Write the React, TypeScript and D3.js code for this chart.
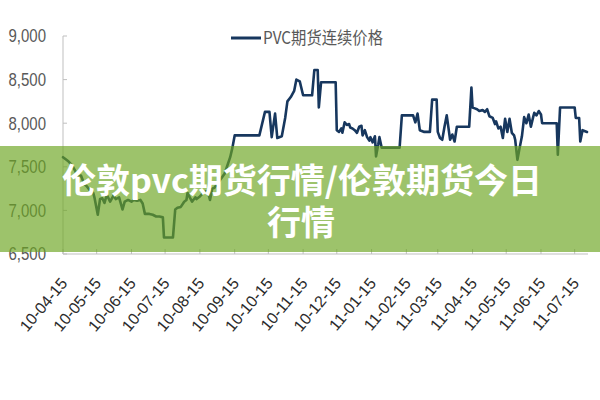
import React from 'react';
import * as d3 from 'd3';

const dates = [
  '2010-04-15','2010-04-18','2010-04-20','2010-04-23','2010-04-26','2010-04-28','2010-05-01','2010-05-04','2010-05-06','2010-05-09',
  '2010-05-12','2010-05-13','2010-05-16','2010-05-18','2010-05-20','2010-05-22','2010-05-24','2010-05-27','2010-05-30','2010-06-01',
  '2010-06-04','2010-06-07','2010-06-09','2010-06-12','2010-06-15','2010-06-17','2010-06-20','2010-06-23','2010-06-25','2010-06-27',
  '2010-07-01','2010-07-04','2010-07-07','2010-07-10','2010-07-13','2010-07-14','2010-07-18','2010-07-22','2010-07-24','2010-07-26',
  '2010-07-29','2010-08-01','2010-08-03','2010-08-04','2010-08-06','2010-08-08','2010-08-11','2010-08-12','2010-08-15','2010-08-18',
  '2010-08-20','2010-08-22','2010-08-24','2010-08-26','2010-08-28','2010-09-02','2010-09-06','2010-09-11','2010-09-13','2010-09-15',
  '2010-09-24','2010-10-03','2010-10-07','2010-10-12','2010-10-16','2010-10-18','2010-10-21','2010-10-23','2010-10-27','2010-10-30',
  '2010-11-01','2010-11-04','2010-11-07','2010-11-09','2010-11-12','2010-11-15','2010-11-19','2010-11-23','2010-11-25','2010-11-28',
  '2010-11-29','2010-12-01','2010-12-07','2010-12-14','2010-12-15','2010-12-17','2010-12-19','2010-12-20','2010-12-22','2010-12-24',
  '2010-12-26','2010-12-27','2010-12-29','2010-12-31','2011-01-02','2011-01-04','2011-01-06','2011-01-07','2011-01-09','2011-01-11',
  '2011-01-13','2011-01-14','2011-01-16','2011-01-18','2011-01-19','2011-01-21','2011-01-22','2011-01-24','2011-01-31','2011-02-09',
  '2011-02-11','2011-02-16','2011-02-21','2011-02-23','2011-02-25','2011-02-27','2011-03-03','2011-03-08','2011-03-10','2011-03-14',
  '2011-03-15','2011-03-17','2011-03-19','2011-03-21','2011-03-23','2011-03-26','2011-03-28','2011-03-30','2011-04-01','2011-04-06',
  '2011-04-12','2011-04-14','2011-04-15','2011-04-17','2011-04-19','2011-04-21','2011-04-24','2011-04-26','2011-04-28','2011-04-30',
  '2011-05-03','2011-05-05','2011-05-06','2011-05-08','2011-05-10','2011-05-12','2011-05-14','2011-05-16','2011-05-18','2011-05-20',
  '2011-05-22','2011-05-23','2011-05-25','2011-05-27','2011-05-29','2011-05-31','2011-06-02','2011-06-04','2011-06-06','2011-06-08',
  '2011-06-09','2011-06-11','2011-06-13','2011-06-15','2011-06-16','2011-06-23','2011-06-29','2011-06-30','2011-07-02','2011-07-08',
  '2011-07-15','2011-07-16','2011-07-19','2011-07-20','2011-07-22','2011-07-26'
];

const prices = [
  7610,7580,7560,7520,7450,7380,7400,7300,7280,7230,
  7200,7150,6950,7130,7140,7085,7180,7100,7170,7130,
  7150,7010,7100,7120,7100,7120,7110,7120,7080,6960,
  6960,6950,6930,6930,6920,6690,6690,6690,7010,7030,
  7040,7100,7120,7200,7150,7100,7150,7130,7160,7200,
  7220,7220,7120,7250,7260,7350,7420,7610,7720,7860,
  7860,7860,7860,8130,8130,7840,8110,7830,7850,8060,
  8250,8300,8370,8500,8480,8320,8320,8320,8610,8610,
  8180,8470,8470,8470,7920,7900,7940,7890,8010,7980,
  7990,7950,7940,7920,7890,7960,7970,7860,7920,7840,
  7800,7840,7780,7850,7620,7760,7840,7720,7720,7720,
  8090,8090,8090,8010,8110,7920,7900,7900,8270,8270,
  7900,7830,7810,7960,8090,7810,7870,7790,7960,7960,
  7960,8410,8180,8170,8160,8140,8150,8130,8160,8080,
  8060,7990,8020,7940,7960,7830,8050,7900,8050,7890,
  7860,7810,7580,7720,7850,8070,8000,8100,7960,8070,
  8120,8090,8140,8100,8000,8000,8000,7640,8180,8180,
  8180,8060,8060,7790,7920,7900
];

const yTicks = [6500, 7000, 7500, 8000, 8500, 9000];
const xTickLabels = [
  '10-04-15','10-05-15','10-06-15','10-07-15','10-08-15','10-09-15','10-10-15','10-11-15',
  '10-12-15','11-01-15','11-02-15','11-03-15','11-04-15','11-05-15','11-06-15','11-07-15'
];
const legendLabel = 'PVC期货连续价格';
const bannerLines = ['伦敦pvc期货行情/伦敦期货今日', '行情'];

export default function App() {
  const parse = d3.timeParse('%Y-%m-%d');
  const parseTick = d3.timeParse('%y-%m-%d');
  const data = dates.map((d, i) => ({ date: parse(d) as Date, value: prices[i] }));
  const ext = d3.extent(data, (d) => d.date) as [Date, Date];

  const x = d3.scaleTime().domain(ext).range([63, 587]);
  const y = d3.scaleLinear().domain([6500, 9000]).range([254, 36]);
  const fmt = d3.format(',');

  const line = d3
    .line<{ date: Date; value: number }>()
    .x((d) => x(d.date))
    .y((d) => y(d.value));

  const navy = '#17375e';
  const axisColor = '#bfbfbf';

  return (
    <svg
      width={600}
      height={400}
      style={{ position: 'absolute', left: 0, top: 0, background: '#fff' }}
    >
      <rect x={0} y={0} width={600} height={400} fill="#fff" />
      {/* y axis */}
      <line x1={63} x2={63} y1={y(9000)} y2={y(6500)} stroke={axisColor} strokeWidth={1} />
      {yTicks.map((t) => (
        <g key={t}>
          <line x1={63} x2={67} y1={y(t)} y2={y(t)} stroke={axisColor} />
          <text
            transform={`translate(46,${y(t)}) scale(1,1.2)`}
            textAnchor="end"
            dy="0.35em"
            fontFamily="Liberation Sans, Arial, sans-serif"
            fontSize={15}
            fill="#595959"
          >
            {fmt(t)}
          </text>
        </g>
      ))}
      {/* x axis */}
      <line x1={63} x2={588} y1={254} y2={254} stroke={axisColor} strokeWidth={1} />
      {xTickLabels.map((lab) => {
        const tx = x(parseTick(lab) as Date);
        return (
          <g key={lab}>
            <line x1={tx} x2={tx} y1={254} y2={249} stroke={axisColor} />
            <text
              transform={`translate(${tx + 1},280) rotate(-50)`}
              textAnchor="end"
              dy="0.35em"
              fontFamily="Liberation Sans, Arial, sans-serif"
              fontSize={16}
              fill="#2b2b2b"
            >
              {lab}
            </text>
          </g>
        );
      })}
      {/* series */}
      <path
        d={line(data) || ''}
        fill="none"
        stroke={navy}
        strokeWidth={2.6}
        strokeLinejoin="round"
        strokeLinecap="round"
      />
      {/* legend */}
      <line x1={231} x2={261} y1={38} y2={38} stroke={navy} strokeWidth={3} />
      <text
        transform="translate(263,38) scale(1,1.1)"
        dy="0.35em"
        fontFamily="Noto Sans CJK SC, sans-serif"
        fontSize={16}
        fill="#595959"
        textLength={120}
        lengthAdjust="spacingAndGlyphs"
      >
        {legendLabel}
      </text>
      {/* banner overlay */}
      <rect x={0} y={146} width={600} height={106} fill="rgb(109,166,34)" opacity={0.67} />
      <text
        textAnchor="middle"
        fontFamily="Noto Sans CJK SC, sans-serif"
        fontWeight={700}
        fontSize={34}
        fill="#fff"
      >
        <tspan x={302} y={193}>{bannerLines[0]}</tspan>
        <tspan x={301} y={235}>{bannerLines[1]}</tspan>
      </text>
    </svg>
  );
}
